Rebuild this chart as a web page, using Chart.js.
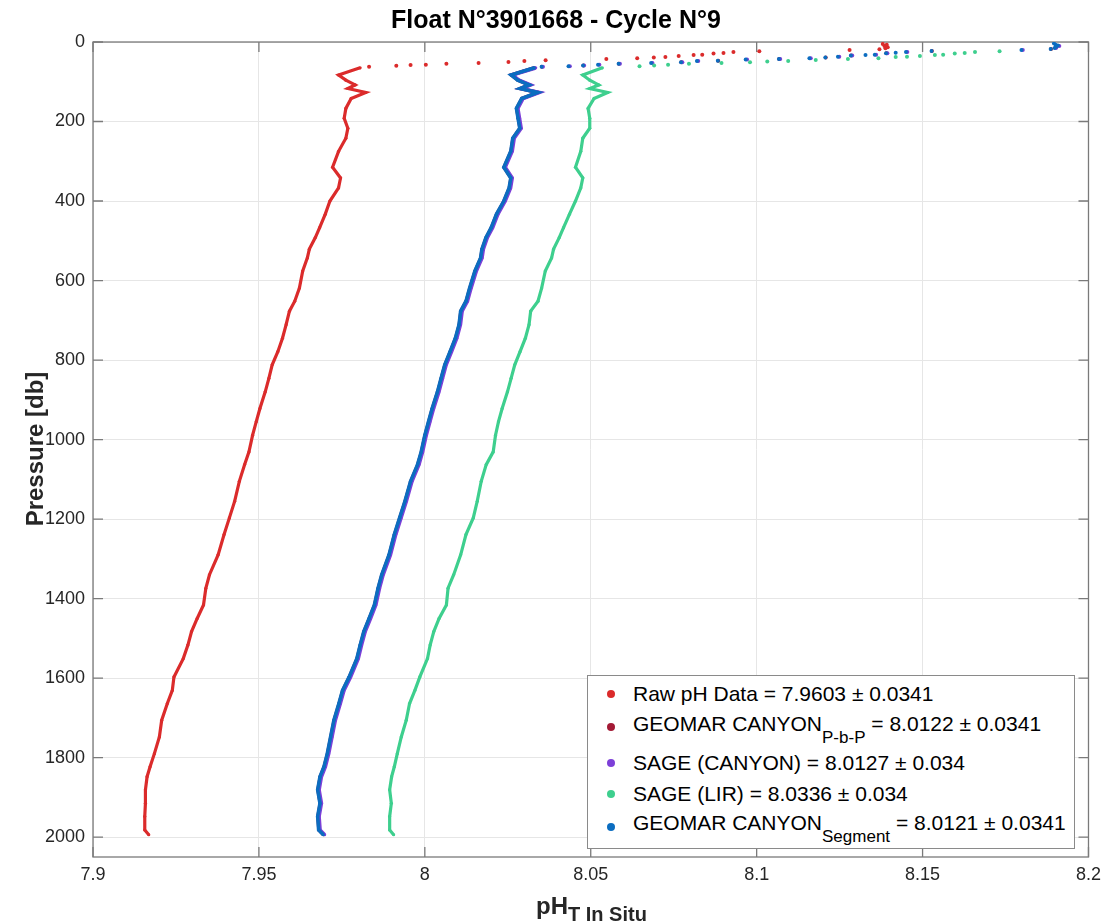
<!DOCTYPE html>
<html>
<head>
<meta charset="utf-8">
<script src="https://cdn.jsdelivr.net/npm/chart.js@4/dist/chart.umd.min.js"></script>
<style>
  html, body { margin: 0; padding: 0; background: #fff; }
  #wrap { position: relative; width: 1108px; height: 924px; font-family: "Liberation Sans", Helvetica, Arial, sans-serif; color: #000; }
  #chart { position: absolute; left: 0; top: 0; }
  .title { position: absolute; left: 391px; top: 6px; font-weight: bold; font-size: 25px; line-height: 27px; white-space: nowrap; }
  .xlab { position: absolute; left: 536px; top: 893px; font-weight: bold; font-size: 24px; line-height: 26px; white-space: nowrap; color: #262626; }
  .xlab span { font-size: 20px; position: relative; top: 7px; }
  .ylab { position: absolute; left: -115px; top: 434px; width: 300px; height: 30px; line-height: 30px; text-align: center;
          font-weight: bold; font-size: 24px; transform: rotate(-90deg); color: #262626; white-space: nowrap; }
  .legend { position: absolute; left: 587px; top: 675px; width: 486px; height: 172px; border: 1px solid #8a8a8a; background: #fff; }
  .lg-row { position: absolute; left: 45px; font-size: 21px; line-height: 24px; white-space: nowrap; }
  .lg-row span { font-size: 17px; position: relative; top: 12px; }
  .lg-dot { position: absolute; left: 19px; width: 8px; height: 8px; border-radius: 50%; }
</style>
</head>
<body>
<div id="wrap">
  <canvas id="chart" width="1108" height="924"></canvas>
  <div class="title">Float N°3901668 - Cycle N°9</div>
  <div class="ylab">Pressure [db]</div>
  <div class="xlab">pH<span>T In Situ</span></div>
  <div class="legend" id="legend"></div>
</div>
<script>
// profondeurs communes du profil (db)
const profP = [65, 83, 96, 108, 117, 127, 142, 167, 192, 217, 242, 275, 315, 342, 367, 400, 433, 467, 492, 521,
  543, 576, 619, 652, 677, 711, 745, 779, 812, 846, 880, 922, 955, 989, 1031,
  1063, 1105, 1155, 1197, 1239, 1290, 1340, 1374, 1416, 1450, 1483, 1517,
  1551, 1597, 1631, 1664, 1706, 1748, 1790, 1823, 1848, 1881, 1915, 1948, 1982, 1994];

const rawPH = [7.9805, 7.974, 7.9762, 7.979, 7.9768, 7.9822, 7.9778, 7.9762, 7.9757, 7.9768, 7.9762, 7.974, 7.9722, 7.9746, 7.974, 7.9714, 7.970, 7.9683, 7.967, 7.9652,
  7.9646, 7.9632, 7.9622, 7.9608, 7.9592, 7.9582, 7.9571, 7.9557, 7.954, 7.953, 7.9519, 7.9503, 7.9492, 7.9481, 7.947,
  7.9457, 7.9441, 7.9427, 7.9411, 7.9395, 7.9377, 7.9351, 7.934, 7.9333, 7.9314, 7.9297, 7.9286,
  7.9272, 7.9244, 7.9239, 7.9224, 7.9207, 7.92, 7.9185, 7.9172, 7.9163, 7.9158, 7.9158, 7.9156, 7.9156, 7.9168];

const pbpPH = [8.0331, 8.0261, 8.0281, 8.0315, 8.0288, 8.0341, 8.0293, 8.0277, 8.0282, 8.0287, 8.0266, 8.026, 8.0239, 8.026, 8.0255, 8.0239, 8.0217, 8.0201, 8.0185, 8.0173,
  8.0169, 8.0152, 8.0136, 8.0125, 8.0109, 8.0104, 8.0093, 8.0077, 8.0061, 8.005, 8.0039, 8.0023, 8.0012, 8.0001, 7.999,
  7.9979, 7.9958, 7.9941, 7.9925, 7.9909, 7.9893, 7.9871, 7.986, 7.9849, 7.9833, 7.9817, 7.9806,
  7.9796, 7.9773, 7.9753, 7.9742, 7.9727, 7.9717, 7.9707, 7.9697, 7.9685, 7.9678, 7.9685, 7.9678, 7.9681, 7.9695];

const sageCanPH = [8.0334, 8.0263, 8.0284, 8.0318, 8.029, 8.0344, 8.0296, 8.028, 8.0285, 8.029, 8.0269, 8.0263, 8.0242, 8.0263, 8.0258, 8.0242, 8.022, 8.0204, 8.0188, 8.0176,
  8.0172, 8.0155, 8.0139, 8.0128, 8.0112, 8.0107, 8.0096, 8.008, 8.0064, 8.0053, 8.0042, 8.0026, 8.0015, 8.0004, 7.9993,
  7.9982, 7.9961, 7.9944, 7.9928, 7.9912, 7.9896, 7.9874, 7.9863, 7.9852, 7.9836, 7.982, 7.9809,
  7.9799, 7.9776, 7.9756, 7.9745, 7.973, 7.972, 7.971, 7.97, 7.9688, 7.9681, 7.9688, 7.9681, 7.9684, 7.9698];

const lirPH = [8.0535, 8.0476, 8.0497, 8.0524, 8.0497, 8.0551, 8.051, 8.0492, 8.0497, 8.0497, 8.0476, 8.047, 8.0454, 8.0476, 8.047, 8.0454, 8.0436, 8.0418, 8.0405, 8.0388,
  8.0382, 8.0363, 8.0352, 8.0341, 8.0319, 8.0314, 8.0303, 8.0287, 8.0271, 8.026, 8.0249, 8.0233, 8.0222, 8.0213, 8.0206,
  8.0185, 8.017, 8.0158, 8.0146, 8.0124, 8.0108, 8.0087, 8.007, 8.0065, 8.0043, 8.0027, 8.0016,
  8.0008, 7.9985, 7.997, 7.9954, 7.9944, 7.9929, 7.9917, 7.9908, 7.99, 7.9894, 7.9899, 7.9894, 7.9894, 7.9906];

const segPH = [8.033, 8.026, 8.028, 8.0314, 8.0287, 8.034, 8.0292, 8.0276, 8.0281, 8.0286, 8.0265, 8.0259, 8.0238, 8.0259, 8.0254, 8.0238, 8.0216, 8.02, 8.0184, 8.0172,
  8.0168, 8.0151, 8.0135, 8.0124, 8.0108, 8.0103, 8.0092, 8.0076, 8.006, 8.0049, 8.0038, 8.0022, 8.0011, 8.0, 7.9989,
  7.9978, 7.9957, 7.994, 7.9924, 7.9908, 7.9892, 7.987, 7.9859, 7.9848, 7.9832, 7.9816, 7.9805,
  7.9795, 7.9772, 7.9752, 7.9741, 7.9726, 7.9716, 7.9706, 7.9696, 7.9684, 7.9677, 7.9684, 7.9677, 7.968, 7.9694];

// couche de surface (points isoles)
const rawSurfP  = [62.5, 60, 58, 57, 55, 53, 50, 48, 46, 43, 41, 39, 37.5, 35, 33, 32, 29, 27.5, 25, 23, 20, 18, 16, 13, 10, 7, 5];
const rawSurfPH = [7.9832, 7.9914, 7.9957, 8.0003, 8.0065, 8.0162, 8.0252, 8.030, 8.0364, 8.0547, 8.064, 8.069, 8.0725, 8.0765, 8.081, 8.0836, 8.087, 8.090, 8.093, 8.1008, 8.128, 8.137, 8.1388, 8.1395, 8.1385, 8.1392, 8.138];

const segSurfP  = [62.5, 61, 59, 57, 55, 53, 51, 48, 47, 44, 42.5, 41, 39, 37, 34, 32.5, 32, 28, 27, 25, 22.5, 20, 17.5, 15, 12, 9, 7, 4];
const segSurfPH = [8.0352, 8.0433, 8.0477, 8.0522, 8.0584, 8.0682, 8.0772, 8.082, 8.0883, 8.0967, 8.1067, 8.1159, 8.1207, 8.1245, 8.1284, 8.1328, 8.1356, 8.139, 8.1419, 8.145, 8.1527, 8.1798, 8.1886, 8.1898, 8.1903, 8.1908, 8.1901, 8.1896];

const sageSurfP  = [62.5, 61, 59, 57, 55, 53, 51, 48, 44, 42.5, 41, 37, 34, 32, 28, 25, 20, 15, 10];
const sageSurfPH = [8.0356, 8.0437, 8.048, 8.0526, 8.0588, 8.0686, 8.0776, 8.0824, 8.0971, 8.1071, 8.1163, 8.1249, 8.1288, 8.136, 8.1394, 8.1454, 8.1802, 8.1902, 8.1912];

const pbpSurfP  = [62.5, 59, 55, 51, 47, 42.5, 39, 34, 28, 22.5, 17.5, 12];
const pbpSurfPH = [8.0353, 8.0478, 8.0585, 8.0773, 8.0884, 8.1068, 8.1208, 8.1285, 8.1391, 8.1528, 8.1887, 8.1904];

const lirSurfP  = [61, 59, 57, 55, 53, 51, 49, 47.5, 45, 42.5, 41, 38, 37, 35, 33, 32, 29, 27.5, 25, 23];
const lirSurfPH = [8.0647, 8.0691, 8.0733, 8.0796, 8.0894, 8.098, 8.1032, 8.1095, 8.1178, 8.1275, 8.1367, 8.1419, 8.1453, 8.1492, 8.1537, 8.1562, 8.1597, 8.1627, 8.1658, 8.1732];

const xTicks = [7.9, 7.95, 8, 8.05, 8.1, 8.15, 8.2];
const yTicks = [0, 200, 400, 600, 800, 1000, 1200, 1400, 1600, 1800, 2000];

const series = [
  { label: "Raw pH Data = 7.9603 ± 0.0341", color: "#db2b2b", prof: rawPH, sp: rawSurfP, sx: rawSurfPH, w: 3.2 },
  { label: "GEOMAR CANYON", sub: "P-b-P", rest: " = 8.0122 ± 0.0341", color: "#a31a35", prof: pbpPH, sp: pbpSurfP, sx: pbpSurfPH, w: 3.6 },
  { label: "SAGE (CANYON) = 8.0127 ± 0.034", color: "#7d3fd8", prof: sageCanPH, sp: sageSurfP, sx: sageSurfPH, w: 3.8 },
  { label: "SAGE (LIR) = 8.0336 ± 0.034", color: "#3ecf8e", prof: lirPH, sp: lirSurfP, sx: lirSurfPH, w: 3.2 },
  { label: "GEOMAR CANYON", sub: "Segment", rest: " = 8.0121 ± 0.0341", color: "#0b6dc0", prof: segPH, sp: segSurfP, sx: segSurfPH, w: 3.6 },
];

const toPts = (xs, ys) => xs.map((v, i) => ({ x: v, y: ys[i] }));

// chart.js dessine le premier dataset au-dessus -> on inverse
const datasets = [];
series.slice().reverse().forEach((s) => {
  datasets.push({
    data: toPts(s.sx, s.sp),
    showLine: false,
    pointRadius: 2,
    pointBorderWidth: 0,
    backgroundColor: s.color,
    borderColor: s.color,
  });
  datasets.push({
    data: toPts(s.prof, profP),
    showLine: true,
    borderWidth: s.w,
    pointRadius: 1.6,
    pointBorderWidth: 0,
    backgroundColor: s.color,
    borderColor: s.color,
    tension: 0,
  });
});

// cadre complet + ticks vers l'interieur (style MATLAB)
const axisBox = {
  id: "axisBox",
  beforeDatasetsDraw(chart) {
    const { ctx, chartArea: a, scales } = chart;
    ctx.save();
    ctx.strokeStyle = "#7a7a7a";
    ctx.lineWidth = 1.3;
    ctx.strokeRect(a.left, a.top, a.right - a.left, a.bottom - a.top);
    ctx.beginPath();
    xTicks.forEach((t) => {
      const px = scales.x.getPixelForValue(t);
      ctx.moveTo(px, a.bottom); ctx.lineTo(px, a.bottom - 10);
      ctx.moveTo(px, a.top); ctx.lineTo(px, a.top + 10);
    });
    yTicks.forEach((t) => {
      const py = scales.y.getPixelForValue(t);
      ctx.moveTo(a.left, py); ctx.lineTo(a.left + 10, py);
      ctx.moveTo(a.right, py); ctx.lineTo(a.right - 10, py);
    });
    ctx.stroke();
    ctx.restore();
  },
};

const tickFont = { family: '"Liberation Sans", Helvetica, Arial, sans-serif', size: 18 };

new Chart(document.getElementById("chart"), {
  type: "scatter",
  data: { datasets },
  options: {
    responsive: false,
    animation: false,
    layout: { padding: { top: 42, right: 18, left: 0, bottom: 0 } },
    plugins: { legend: { display: false }, tooltip: { enabled: false }, title: { display: false } },
    scales: {
      x: {
        type: "linear",
        min: 7.9,
        max: 8.2,
        afterFit: (s) => { s.height = 67; },
        afterBuildTicks: (s) => { s.ticks = xTicks.map((v) => ({ value: v })); },
        ticks: { font: tickFont, color: "#262626", padding: 7, maxRotation: 0, callback: (v) => String(+v.toFixed(2)) },
        grid: { color: "#e6e6e6", lineWidth: 1, drawTicks: false },
        border: { display: false },
      },
      y: {
        type: "linear",
        reverse: true,
        min: 0,
        max: 2050,
        afterFit: (s) => { s.width = 93; },
        afterBuildTicks: (s) => { s.ticks = yTicks.map((v) => ({ value: v })); },
        ticks: { font: tickFont, color: "#262626", padding: 8, callback: (v) => String(v) },
        grid: { color: "#e6e6e6", lineWidth: 1, drawTicks: false },
        border: { display: false },
      },
    },
  },
  plugins: [axisBox],
});

// legende HTML (indices en vrai texte)
const lgTops = [681, 711, 750, 781, 810];
const dotYs = [693, 726, 762, 793, 826];
const legend = document.getElementById("legend");
series.forEach((s, i) => {
  const dot = document.createElement("div");
  dot.className = "lg-dot";
  dot.style.top = (dotYs[i] - 675 - 4) + "px";
  dot.style.background = s.color;
  legend.appendChild(dot);
  const row = document.createElement("div");
  row.className = "lg-row";
  row.style.top = (lgTops[i] - 675) + "px";
  if (s.sub) {
    row.appendChild(document.createTextNode(s.label));
    const sub = document.createElement("span");
    sub.textContent = s.sub;
    row.appendChild(sub);
    row.appendChild(document.createTextNode(s.rest));
  } else {
    row.textContent = s.label;
  }
  legend.appendChild(row);
});
</script>
</body>
</html>
